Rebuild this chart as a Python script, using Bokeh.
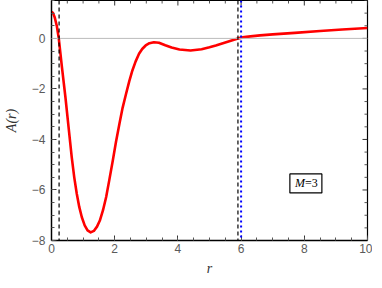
import math
from bokeh.plotting import figure
from bokeh.models import FixedTicker, Span, Range1d
from bokeh.core.properties import value
from bokeh.embed import file_html
from bokeh.resources import INLINE

# ---- data ----
r_vals = [0.0, 0.05, 0.1, 0.17, 0.23, 0.33, 0.44, 0.54, 0.64, 0.72, 0.8, 0.88, 0.96,
          1.05, 1.14, 1.24, 1.34, 1.44, 1.53, 1.63, 1.73, 1.83, 1.94, 2.04, 2.15,
          2.25, 2.36, 2.46, 2.56, 2.66, 2.77, 2.87, 2.98, 3.1, 3.24, 3.4, 3.6, 3.8,
          4.05, 4.4, 4.75, 5.0, 5.2, 5.5, 5.7, 5.9, 6.1, 6.3, 6.6, 7.0, 7.7, 8.5,
          9.2, 10.0]
A_vals = [1.05, 1.0, 0.84, 0.48, 0.0, -1.14, -2.32, -3.51, -4.7, -5.5, -6.15, -6.68, -7.08,
          -7.4, -7.6, -7.68, -7.62, -7.45, -7.21, -6.8, -6.28, -5.6, -4.83, -4.1, -3.38,
          -2.75, -2.19, -1.7, -1.27, -0.92, -0.61, -0.42, -0.28, -0.19, -0.15, -0.17, -0.27, -0.36,
          -0.44, -0.48, -0.43, -0.35, -0.28, -0.16, -0.08, 0.0, 0.05, 0.08, 0.12, 0.16, 0.22, 0.29,
          0.35, 0.41]

black_dashed_r = [0.24, 5.9]
blue_dotted_r = [6.0]

x_major = [0, 2, 4, 6, 8, 10]
x_minor = [i * 0.5 for i in range(0, 21)]
y_major = [-8, -6, -4, -2, 0]
y_minor = [-8 + i * 0.5 for i in range(0, 20)]
x_labels = {0: "0", 2: "2", 4: "4", 6: "6", 8: "8", 10: "10"}
y_labels = {-8: "\u22128", -6: "\u22126", -4: "\u22124", -2: "\u22122", 0: "0"}

legend_x = [8.05]
legend_y = [-5.74]

X0, X1 = 0, 10
Y0, Y1 = -8, 1.5

p = figure(frame_width=316, frame_height=240, output_backend="svg", toolbar_location=None,
           x_range=Range1d(X0, X1), y_range=Range1d(Y0, Y1),
           min_border_left=45, min_border_right=5, min_border_top=0, min_border_bottom=36,
           x_axis_label="r", y_axis_label="A(r)")
p.background_fill_color = "white"
p.border_fill_color = "white"
p.outline_line_color = "black"
p.outline_line_width = 1.2
p.xgrid.visible = False
p.ygrid.visible = False


def style_axis(ax, ticks, minor, labels):
    ax.ticker = FixedTicker(ticks=ticks, minor_ticks=minor)
    ax.major_tick_in = 5
    ax.major_tick_out = 0
    ax.minor_tick_in = 3
    ax.minor_tick_out = 0
    ax.axis_line_color = "black"
    ax.axis_line_width = 1.3
    ax.major_tick_line_color = "#333333"
    ax.minor_tick_line_color = "#555555"
    ax.major_label_overrides = labels
    ax.major_label_text_font = "Liberation Sans"
    ax.major_label_text_font_size = "12px"
    ax.major_label_text_color = "#5a5a5a"
    ax.axis_label_text_font = "Liberation Serif"
    ax.axis_label_text_font_style = "italic"
    ax.axis_label_text_font_size = "14px"
    ax.axis_label_text_color = "#333333"


style_axis(p.xaxis[0], x_major, x_minor, x_labels)
style_axis(p.yaxis[0], y_major, y_minor, y_labels)
p.xaxis[0].major_label_standoff = 3
p.xaxis[0].axis_label_standoff = 5
p.yaxis[0].major_label_standoff = 6
p.yaxis[0].axis_label_standoff = 10

# inward frame ticks on the top and right edges
x_minor_only = [t for t in x_minor if t not in x_major]
y_minor_only = [t for t in y_minor if t not in y_major]
p.ray(x=x_major, y=[Y1] * len(x_major), length=5, length_units="screen",
      angle=-math.pi / 2, line_color="#333333", line_width=1)
p.ray(x=x_minor_only, y=[Y1] * len(x_minor_only), length=3, length_units="screen",
      angle=-math.pi / 2, line_color="#555555", line_width=1)
p.ray(x=[X1] * len(y_major), y=y_major, length=5, length_units="screen",
      angle=math.pi, line_color="#333333", line_width=1)
p.ray(x=[X1] * len(y_minor_only), y=y_minor_only, length=3, length_units="screen",
      angle=math.pi, line_color="#555555", line_width=1)

# axis line at A=0
p.add_layout(Span(location=0, dimension="width", line_color="#bbbbbb", line_width=1))

# vertical markers
for rv in black_dashed_r:
    p.add_layout(Span(location=rv, dimension="height", line_color="black",
                      line_width=1.2, line_dash="4 3"))
for rv in blue_dotted_r:
    p.add_layout(Span(location=rv, dimension="height", line_color="#0000ff",
                      line_width=2, line_dash="2 3"))

# curve
p.line(r_vals, A_vals, line_color="#ff0000", line_width=2.6, line_join="round")

# M=3 box
p.rect(x=legend_x, y=legend_y, width=32, height=19, width_units="screen",
       height_units="screen", fill_color="white", line_color="black", line_width=1.2)
p.text(x=legend_x, y=legend_y, text=["M"], text_align="right", text_baseline="middle",
       x_offset=-1, text_font=value("Liberation Serif"), text_font_style="italic",
       text_font_size="12px", text_color="black")
p.text(x=legend_x, y=legend_y, text=["=3"], text_align="left", text_baseline="middle",
       x_offset=-1, text_font=value("Liberation Serif"),
       text_font_size="12px", text_color="black")

open("out.html", "w").write(file_html(p, INLINE))
